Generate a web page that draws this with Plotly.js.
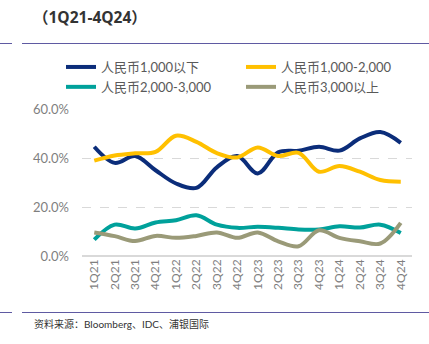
<!DOCTYPE html>
<html>
<head>
<meta charset="utf-8">
<script src="https://cdn.plot.ly/plotly-3.0.1.min.js"></script>
<style>html,body{margin:0;padding:0;background:#fff;}#chart{width:429px;height:344px;}</style>
</head>
<body>
<div id="chart"></div>
<script>
const quarters = ["1Q21","2Q21","3Q21","4Q21","1Q22","2Q22","3Q22","4Q22","1Q23","2Q23","3Q23","4Q23","1Q24","2Q24","3Q24","4Q24"];
const below1000 = [44.6,38.0,40.8,35.0,29.6,27.8,36.2,40.8,33.7,42.3,43.0,44.6,43.0,48.0,50.6,46.2];
const r1000to2000 = [38.9,41.0,41.9,42.5,49.1,46.6,42.0,40.2,44.3,40.8,42.1,34.4,36.7,34.4,31.0,30.3];
const r2000to3000 = [6.7,12.8,11.2,13.7,14.6,16.6,12.8,11.5,11.9,11.5,10.8,10.8,12.1,11.6,12.8,9.4];
const above3000 = [9.6,8.1,6.1,8.2,7.4,8.2,9.6,7.4,9.6,6.0,4.0,10.5,7.4,6.0,5.1,13.5];
const seriesNames = ["人民币1,000以下","人民币1,000-2,000","人民币2,000-3,000","人民币3,000以上"];
const seriesColors = ["#0B2D7A","#FFC000","#00A19B","#9A9A78"];
const seriesData = [below1000, r1000to2000, r2000to3000, above3000];
const legendOf = ["legend","legend2","legend","legend2"];

const traces = seriesData.map((d,i)=>({
  x: quarters, y: d, name: seriesNames[i], type: "scatter", mode: "lines",
  legend: legendOf[i],
  line: {color: seriesColors[i], width: 4, shape: "spline", smoothing: 1}
}));

const W = 429, H = 344, L = 82, R = 17, T = 109, B = 88;
const pw = W - L - R, ph = H - T - B;
const px = x => (x - L) / pw;
const py = y => 1 - (y - T) / ph;

const legFont = {size: 13, color: "#595959", family: "Lato, 'Noto Sans CJK SC', sans-serif"};
const lineColor = "#5F5AA2";
const layout = {
  width: W, height: H,
  margin: {l: L, r: R, t: T, b: B},
  paper_bgcolor: "#fff", plot_bgcolor: "#fff",
  font: {family: "Lato, 'Noto Sans CJK SC', sans-serif", color: "#7f7f7f"},
  showlegend: true,
  legend: {
    orientation: "v", x: px(61), y: py(52), xanchor: "left", yanchor: "top",
    font: legFont, bgcolor: "rgba(0,0,0,0)", itemwidth: 30, traceorder: "normal"
  },
  legend2: {
    orientation: "v", x: px(241), y: py(52), xanchor: "left", yanchor: "top",
    font: legFont, bgcolor: "rgba(0,0,0,0)", itemwidth: 30, traceorder: "normal"
  },
  xaxis: {
    type: "category", tickangle: -90, showgrid: false, zeroline: false,
    showline: false, ticks: "", tickfont: {size: 12, color: "#7f7f7f"},
    range: [-0.6, 15.55]
  },
  yaxis: {
    range: [0, 60], dtick: 20, tickformat: ".1f", ticksuffix: "%",
    showgrid: true, gridcolor: "#d9d9d9", griddash: "dash", gridwidth: 1,
    zeroline: true, zerolinecolor: "#d9d9d9", zerolinewidth: 1.5,
    ticks: "", tickfont: {size: 13, color: "#7f7f7f"}, ticklabelstandoff: 12
  },
  shapes: [
    {type: "line", xref: "paper", yref: "paper", x0: px(0), x1: px(12), y0: py(43.5), y1: py(43.5), line: {color: lineColor, width: 1}},
    {type: "line", xref: "paper", yref: "paper", x0: px(22), x1: px(429), y0: py(43.5), y1: py(43.5), line: {color: lineColor, width: 1}},
    {type: "line", xref: "paper", yref: "paper", x0: px(0), x1: px(12), y0: py(312.5), y1: py(312.5), line: {color: lineColor, width: 1}},
    {type: "line", xref: "paper", yref: "paper", x0: px(22), x1: px(429), y0: py(312.5), y1: py(312.5), line: {color: lineColor, width: 1}}
  ],
  annotations: [
    {text: "<b>（1Q21-4Q24）</b>", xref: "paper", yref: "paper", x: px(31), y: py(17), xanchor: "left", yanchor: "middle", showarrow: false,
     font: {size: 15.5, color: "#333", family: "'Open Sans', 'Noto Sans CJK SC', sans-serif"}},
    {text: "资料来源：Bloomberg、IDC、浦银国际", xref: "paper", yref: "paper", x: px(32), y: py(324), xanchor: "left", yanchor: "middle", showarrow: false,
     font: {size: 10, color: "#333", family: "Lato, 'Noto Sans CJK SC', sans-serif"}}
  ]
};

Plotly.newPlot("chart", traces, layout, {displayModeBar: false, staticPlot: true});
</script>
</body>
</html>
